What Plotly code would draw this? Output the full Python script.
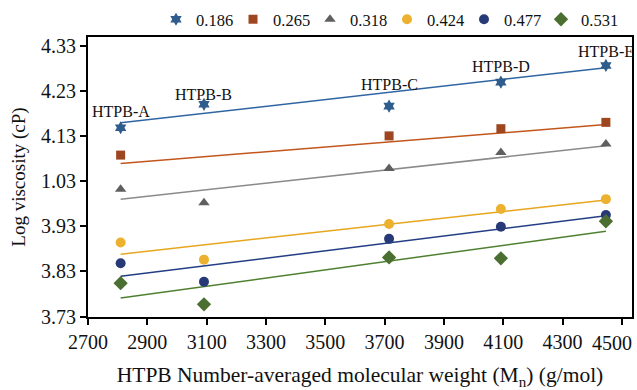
import plotly.graph_objects as go

mw = [2810, 3091, 3715, 4092, 4446]
grades = ["HTPB-A", "HTPB-B", "HTPB-C", "HTPB-D", "HTPB-E"]

series_names = ["0.186", "0.265", "0.318", "0.424", "0.477", "0.531"]
v_0186 = [4.148, 4.200, 4.196, 4.249, 4.286]
v_0265 = [4.0875, None, 4.130, 4.146, 4.160]
v_0318 = [4.012, 3.982, 4.058, 4.093, 4.112]
v_0424 = [3.894, 3.856, 3.935, 3.968, 3.990]
v_0477 = [3.848, 3.807, 3.902, 3.929, 3.955]
v_0531 = [3.804, 3.757, 3.861, 3.859, 3.941]
values = [v_0186, v_0265, v_0318, v_0424, v_0477, v_0531]

# trendline values at first and last grade
trend_start = [4.159, 4.069, 3.990, 3.868, 3.819, 3.771]
trend_end = [4.281, 4.155, 4.108, 3.988, 3.953, 3.919]

y_tickvals = [3.73, 3.83, 3.93, 4.03, 4.13, 4.23, 4.33]
y_ticktext = ["3.73", "3.83", "3.93", "1.03", "4.13", "4.23", "4.33"]
x_tickvals = [2700, 2900, 3100, 3300, 3500, 3700, 3900, 4100, 4300, 4500]
x_ticktext = ["2700", "2900", "3100", "3300", "3500", "3700", "3900", "4100", "4300", "4500"]

marker_symbols = ["hexagram", "square", "triangle-up", "circle", "circle", "diamond"]
marker_sizes = [10, 9, 10, 10, 10, 11]
marker_colors = ["#2E5C8C", "#9E4620", "#5F5F5F", "#EBB12F", "#273A77", "#4B6E31"]
line_colors = ["#2F65A3", "#C2561C", "#8A8A8A", "#E6A61E", "#233E86", "#4F8030"]

FONT = "Liberation Serif, Times New Roman, serif"

fig = go.Figure()

for i, name in enumerate(series_names):
    fig.add_trace(go.Scatter(
        x=[mw[0], mw[-1]], y=[trend_start[i], trend_end[i]],
        mode="lines", line=dict(color=line_colors[i], width=1.5),
        showlegend=False, hoverinfo="skip"))

for i, name in enumerate(series_names):
    fig.add_trace(go.Scatter(
        x=mw, y=values[i], mode="markers", name=name,
        marker=dict(symbol=marker_symbols[i], size=marker_sizes[i],
                    color=marker_colors[i], line=dict(width=0))))

label_y = [4.185, 4.221, 4.243, 4.283, 4.316]
for g, xv, yv in zip(grades, mw, label_y):
    fig.add_annotation(x=xv, y=yv, text=g, showarrow=False,
                       font=dict(family=FONT, size=16, color="#111"),
                       xanchor="center", yanchor="middle")

# last x tick label is nudged left so it stays inside the picture (as in the reference)
shown_ticktext = x_ticktext[:-1] + [""]
fig.add_annotation(x=x_tickvals[-1], xref="x", y=0, yref="paper", yshift=-13,
                   text=x_ticktext[-1], showarrow=False, xanchor="right", yanchor="top",
                   xshift=12, font=dict(family=FONT, size=20, color="#111"))

fig.update_layout(
    width=637, height=390,
    margin=dict(l=88, r=5, t=37, b=73, autoexpand=False),
    paper_bgcolor="white", plot_bgcolor="white",
    font=dict(family=FONT, size=16, color="#111"),
    legend=dict(orientation="h", x=0.125, xanchor="left", y=1.0, yanchor="bottom",
                font=dict(family=FONT, size=16.5, color="#111"),
                itemwidth=30, entrywidth=32, entrywidthmode="pixels",
                tracegroupgap=0, bgcolor="rgba(0,0,0,0)"),
)

fig.update_xaxes(
    range=[2700, 4534], tickvals=x_tickvals, ticktext=shown_ticktext,
    showgrid=False, zeroline=False,
    showline=True, linecolor="black", linewidth=2, mirror=True,
    ticks="outside", ticklen=6, tickwidth=1.5, tickcolor="black",
    tickfont=dict(family=FONT, size=20, color="#111"),
    title=dict(text="HTPB Number-averaged molecular weight (M<sub>n</sub>) (g/mol)",
               font=dict(family=FONT, size=21.5, color="#111"), standoff=16),
)
fig.update_yaxes(
    range=[3.729, 4.349], tickvals=y_tickvals, ticktext=y_ticktext,
    showgrid=False, zeroline=False,
    showline=True, linecolor="black", linewidth=2, mirror=True,
    ticks="outside", ticklen=6, tickwidth=1.5, tickcolor="black",
    tickfont=dict(family=FONT, size=20, color="#111"),
    title=dict(text="Log viscosity (cP)", font=dict(family=FONT, size=19, color="#111"), standoff=10),
)

fig.write_html("out.html")
